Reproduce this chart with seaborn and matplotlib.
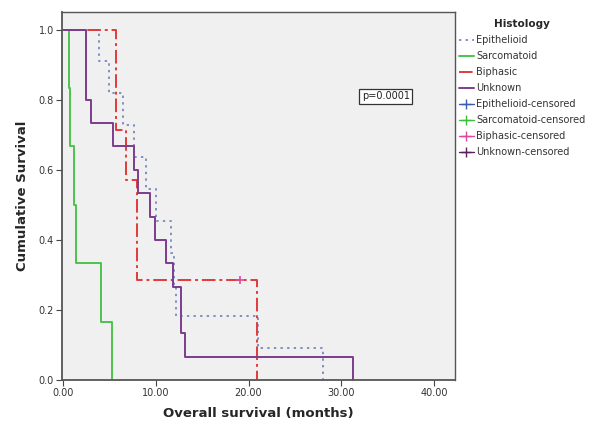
import numpy as np
import matplotlib
matplotlib.use('Agg')
import matplotlib.pyplot as plt
import pandas as pd
import seaborn as sns
from matplotlib.lines import Line2D

# survival times (months) and event flags (1 = death, 0 = censored)
epi_time = [3.9, 5.0, 6.5, 7.6, 8.9, 10.0, 11.6, 12.0, 12.2, 21.0, 28.0]
epi_event = [1, 1, 1, 1, 1, 1, 1, 1, 1, 1, 1]
sar_time = [0.6, 0.7, 1.2, 1.4, 4.1, 5.3]
sar_event = [1, 1, 1, 1, 1, 1]
bip_time = [5.7, 5.7, 6.8, 8.0, 8.0, 19.1, 20.9]
bip_event = [1, 1, 1, 1, 1, 0, 1]
unk_time = [2.5, 2.5, 2.5, 3.0, 5.4, 7.6, 8.1, 9.4, 9.9, 11.1, 11.9, 12.7, 12.7, 13.2, 31.3]
unk_event = [1] * 15

groups = ['Epithelioid', 'Sarcomatoid', 'Biphasic', 'Unknown']
line_colors = ['#7f8fc0', '#4cc24c', '#e23a3a', '#7d3c8e']
cens_colors = ['#3b5bb0', '#3cbf3c', '#e0479e', '#5c1f5c']
line_styles = [(0, (1.2, 2.2)), '-', (0, (7, 2, 1.5, 2)), '-']
p_text = 'p=0.0001'


def km_steps(times, events):
    t = np.array(times, float)
    e = np.array(events, int)
    order = np.argsort(t, kind='stable')
    t, e = t[order], e[order]
    xs, ys = [0.0], [1.0]
    s = 1.0
    cens_x, cens_y = [], []
    for ut in np.unique(t):
        at_risk = np.sum(t >= ut)
        d = np.sum((t == ut) & (e == 1))
        if d > 0:
            s = s * (1 - d / at_risk)
            xs.append(ut)
            ys.append(s)
        c = np.sum((t == ut) & (e == 0))
        if c > 0:
            cens_x.append(ut)
            cens_y.append(s)
    if xs[-1] < t.max():
        xs.append(t.max())
        ys.append(s)
    return xs, ys, cens_x, cens_y


data = {
    'Epithelioid': (epi_time, epi_event),
    'Sarcomatoid': (sar_time, sar_event),
    'Biphasic': (bip_time, bip_event),
    'Unknown': (unk_time, unk_event),
}

sns.set_style('white')
plt.rcParams['font.family'] = ['DejaVu Sans']

fig = plt.figure(figsize=(5.92, 4.29), dpi=100)
ax = fig.add_axes([0.105, 0.114, 0.664, 0.858])
ax.set_facecolor('#f0f0f0')

for g, lc, ls in zip(groups, line_colors, line_styles):
    xs, ys, cx, cy = km_steps(*data[g])
    df = pd.DataFrame({'time': xs, 'surv': ys})
    sns.lineplot(data=df, x='time', y='surv', ax=ax, color=lc, linestyle=ls,
                 linewidth=1.4, drawstyle='steps-post', estimator=None, sort=False)
    if cx:
        ax.plot(cx, cy, marker='+', linestyle='none', color=cens_colors[groups.index(g)],
                markersize=6, markeredgewidth=1.2)

ax.set_xlim(-0.1, 42.3)
ax.set_ylim(0, 1.05)
ax.set_xticks([0, 10, 20, 30, 40])
ax.set_xticklabels(['0.00', '10.00', '20.00', '30.00', '40.00'])
ax.set_yticks([0, 0.2, 0.4, 0.6, 0.8, 1.0])
ax.set_yticklabels(['0.0', '0.2', '0.4', '0.6', '0.8', '1.0'])
ax.tick_params(axis='both', labelsize=7, length=4, direction='out', color='#444444',
               labelcolor='#333333', left=True, bottom=True, pad=2)
for sp in ax.spines.values():
    sp.set_color('#555555')
    sp.set_linewidth(1.0)
ax.spines['left'].set_linewidth(1.3)
ax.spines['bottom'].set_linewidth(1.3)

ax.set_xlabel('Overall survival (months)', fontsize=9.5, fontweight='bold', labelpad=6)
ax.set_ylabel('Cumulative Survival', fontsize=9.5, fontweight='bold', labelpad=4)
ax.yaxis.set_label_coords(-0.085, 0.5)

ax.text(34.8, 0.81, p_text, fontsize=7, ha='center', va='center', color='#222222',
        bbox=dict(boxstyle='square,pad=0.25', facecolor='white', edgecolor='#333333', linewidth=0.9))

handles = []
for g, lc, ls in zip(groups, line_colors, line_styles):
    handles.append(Line2D([], [], color=lc, linestyle=ls, linewidth=1.4, label=g))
for g, cc in zip(groups, cens_colors):
    handles.append(Line2D([], [], color=cc, marker='+', markersize=7, linewidth=1.0,
                          label=g + '-censored'))
leg = fig.legend(handles=handles, loc='upper left', bbox_to_anchor=(0.768, 0.965),
                 frameon=False, fontsize=7, title='Histology', handlelength=1.6,
                 handletextpad=0.2, labelspacing=0.62, borderaxespad=0)
leg.get_title().set_fontweight('bold')
leg.get_title().set_fontsize(7.5)
for t in leg.get_texts():
    t.set_color('#333333')

fig.savefig('out.png', dpi=100)
